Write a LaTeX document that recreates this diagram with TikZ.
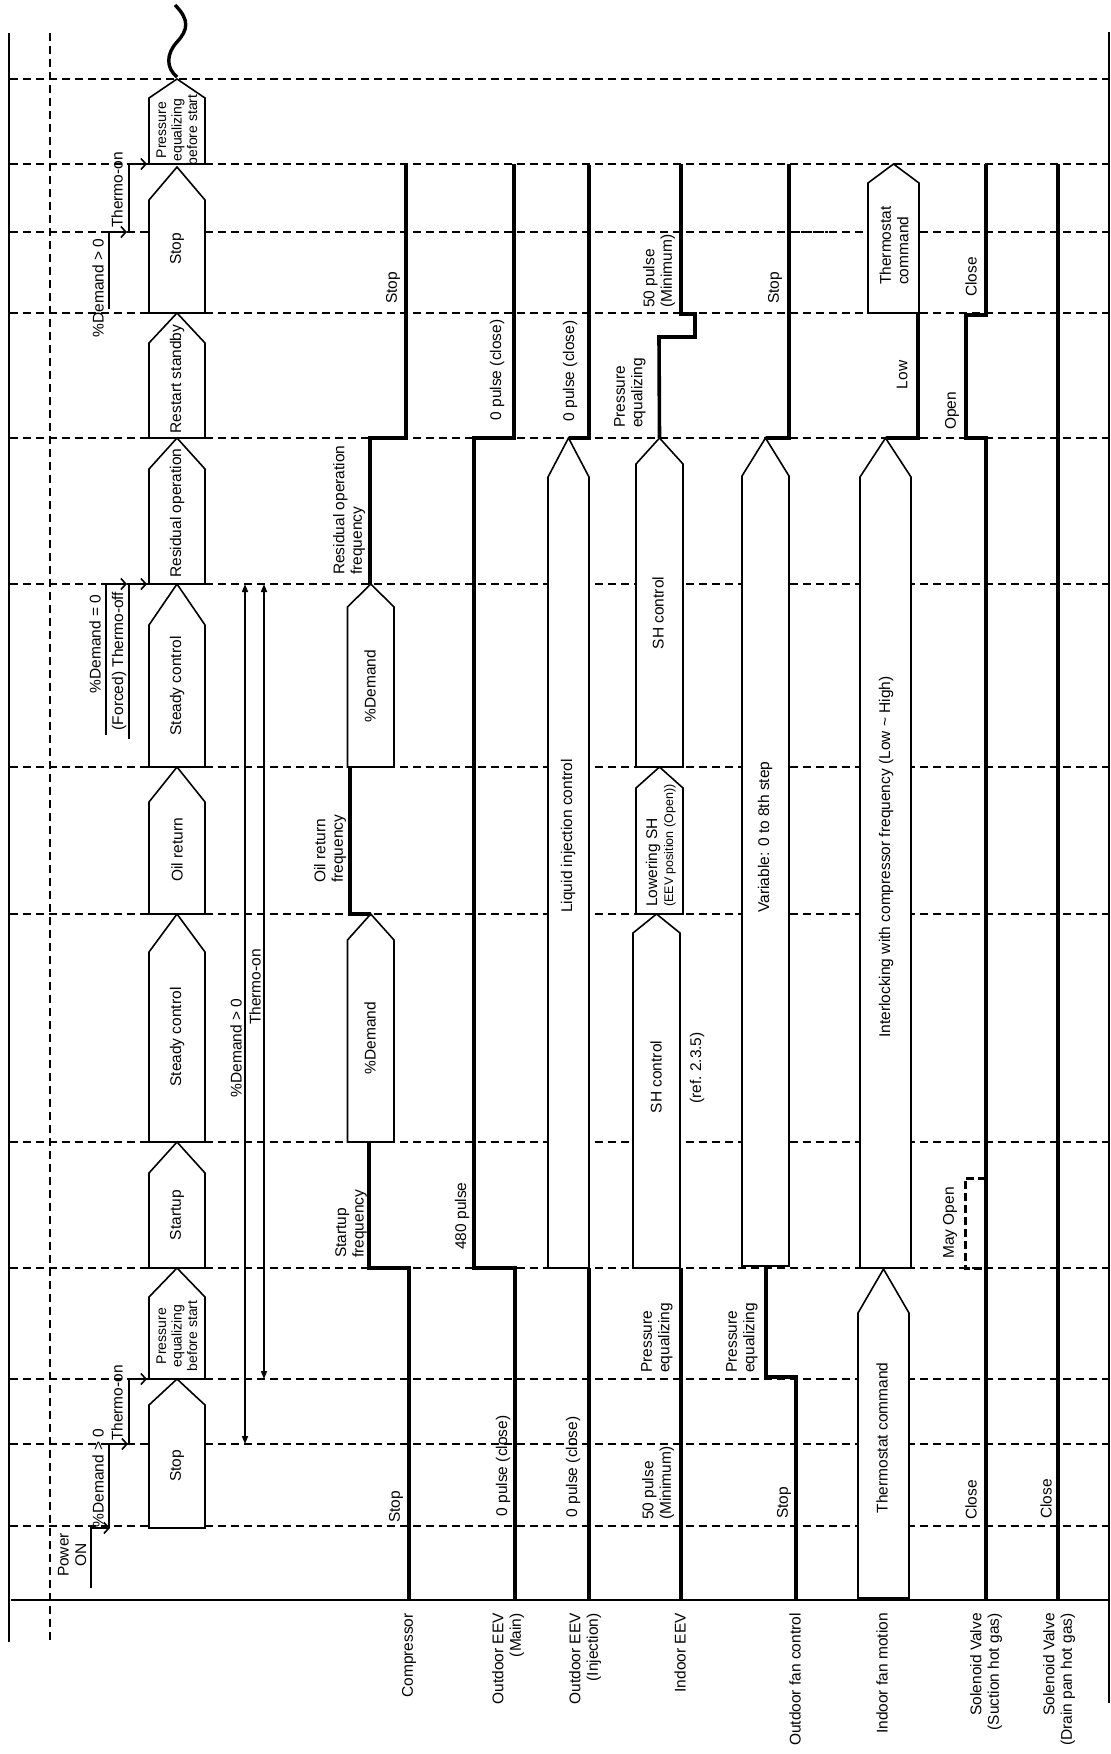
\documentclass[tikz,border=0pt]{standalone}
\usepackage{fontspec}
\setmainfont{Liberation Sans}
\usetikzlibrary{arrows.meta}
\newcommand\pentbox[5]{\draw[bx] (#1,#3) -- (#1,#4) -- ({(#1+#2)/2},#5) -- (#2,#4) -- (#2,#3) -- cycle;}
\tikzset{
 fr/.style={line width=2.2pt},
 dsh/.style={line width=1.1pt, dash pattern=on 8pt off 5pt},
 bx/.style={line width=1.6pt, fill=white, line join=miter},
 sig/.style={line width=3.6pt, line join=miter},
 tl/.style={line width=1.6pt},
 lbl/.style={rotate=90, inner sep=0pt, font=\fontsize{15.5}{17.5}\selectfont},
 bl/.style={lbl, anchor=west, align=left},
 rl/.style={lbl, anchor=east, align=right},
 cl/.style={lbl, align=center},
 sml/.style={font=\fontsize{14}{15.5}\selectfont},
 barb/.style={-{Straight Barb[length=5pt,width=11pt,line width=1.6pt]}},
 tri/.style={{Triangle[length=8pt,width=6pt]}-{Triangle[length=8pt,width=6pt]}},
}
\begin{document}
\begin{tikzpicture}[x=1pt,y=-1pt]
\useasboundingbox (0,0) rectangle (1111,1754);
% frame
\draw[fr] (9,33) -- (9,1642);
\draw[fr] (1109,32) -- (1109,1703);
\draw[fr] (11,1600) -- (1109,1600);
\draw[dsh] (50,33) -- (50,1642);
% event lines
\foreach \yy in {79,164,232,313,438,584,767,914,1142,1268,1379,1444,1526}
  \draw[dsh] (10,\yy) -- (1108,\yy);
\draw[line width=1.1pt, dash pattern=on 3pt off 1pt] (793,232) -- (835,232);
% wavy break
\draw[line width=3.4pt] (175,5) .. controls (190,20) and (188,30) .. (177,42) .. controls (166,54) and (166,68) .. (177,77);
% event staircase arrows (bottom)
\draw[tl,barb] (91,1588) -- (91,1528) -- (110,1528);
\draw[tl,barb] (109,1528) -- (109,1444) -- (128,1444);
\draw[tl,barb] (129,1444) -- (129,1379) -- (147,1379);
% top
\draw[tl,barb] (109,309) -- (109,232) -- (127,232);
\draw[tl,barb] (129,232) -- (129,164) -- (147,164);
% thermo-off
\draw[tl,barb] (106,735) -- (106,584) -- (127,584);
\draw[tl,barb] (129,739) -- (129,584) -- (147,584);
% long double arrows
\draw[tl,tri] (245,584) -- (245,1444);
\draw[tl,tri] (264,584) -- (264,1379);
% phase boxes
\pentbox{149}{205}{1528}{1405}{1379}
\pentbox{149}{205}{1379}{1297}{1268}
\pentbox{149}{205}{1268}{1173}{1142}
\pentbox{149}{205}{1142}{952}{914}
\pentbox{149}{205}{914}{802}{767}
\pentbox{149}{205}{767}{625}{584}
\pentbox{149}{205}{584}{469}{438}
\pentbox{149}{205}{438}{343}{313}
\pentbox{149}{205}{313}{200}{167}
\pentbox{149}{205}{164}{98}{79}
% compressor
\pentbox{347.5}{394}{1142}{940}{914}
\pentbox{347.5}{394}{767}{607}{584}
\draw[sig] (409,1600) -- (409,1268) -- (369,1268) -- (369,1142);
\draw[sig] (371,914) -- (350,914) -- (350,767);
\draw[sig] (370,584) -- (370,438) -- (406,438) -- (406,164);
% outdoor EEV main
\draw[sig] (515,1600) -- (515,1268) -- (474,1268) -- (474,438) -- (514,438) -- (514,164);
% outdoor EEV injection
\pentbox{548}{589}{1268}{477}{438}
\draw[sig] (589,1600) -- (589,1268);
\draw[sig] (568.5,438) -- (589,438) -- (589,165);
% indoor EEV
\pentbox{633}{680}{1268}{933}{914}
\pentbox{636}{683}{914}{788}{767}
\pentbox{636}{683}{767}{464}{438}
\draw[sig] (681,1600) -- (681,1268);
\draw[sig] (659.5,438) -- (659,337) -- (695,337) -- (695,314) -- (681,314) -- (681,164);
% outdoor fan
\pentbox{742}{789}{1266}{476}{438}
\draw[sig] (796,1600) -- (796,1377) -- (766,1377) -- (766,1266);
\draw[sig] (765.5,438) -- (789,438) -- (789,164);
% indoor fan
\pentbox{858}{909}{1598}{1313}{1269}
\pentbox{860}{911}{1268}{477}{438}
\pentbox{868}{919}{313}{183}{164}
\draw[sig] (885.5,438) -- (918,438) -- (918,313);
% solenoid suction
\draw[sig] (986,1600) -- (986,438) -- (966,438) -- (966,315) -- (986,315) -- (986,164);
\draw[line width=3pt, dash pattern=on 8pt off 4pt] (986,1178) -- (965,1178) -- (965,1268) -- (986,1268);
% solenoid drain
\draw[sig] (1058,1600) -- (1058,164);
% row labels
\node[rl] (lcomp) at (409,1613) {Compressor};
\node[rl] (leevm) at (508,1613) {Outdoor EEV\\(Main)};
\node[rl] (leevi) at (585,1613) {Outdoor EEV\\(Injection)};
\node[rl] (lieev) at (680,1613) {Indoor EEV};
\node[rl] (lofan) at (795,1613) {Outdoor fan control};
\node[rl] (lifan) at (882,1613) {Indoor fan motion};
\node[rl] (lsv1) at (986,1613) {Solenoid Valve\\(Suction hot gas)};
\node[rl] (lsv2) at (1059,1613) {Solenoid Valve\\(Drain pan hot gas)};
% phase texts
\node[cl] (p1) at (177,1466) {Stop};
\node[cl,sml] (p2) at (177,1336) {Pressure\\equalizing\\before start};
\node[cl] (p3) at (177,1215) {Startup};
\node[cl] (p4) at (177,1037) {Steady control};
\node[cl] (p5) at (177,850) {Oil return};
\node[cl] (p6) at (177,686) {Steady control};
\node[cl] (p7) at (177,513) {Residual operation};
\node[cl] (p8) at (177,379) {Restart standby};
\node[cl] (p9) at (177,249) {Stop};
\node[cl,sml] (p10) at (177,130) {Pressure\\equalizing\\before start};
% event texts
\node[cl] (e1) at (72,1555) {Power\\ON};
\node[cl] (e2) at (98,1478) {\%Demand > 0};
\node[cl] (e3) at (117,1403) {Thermo-on};
\node[cl] (e4) at (98,288) {\%Demand > 0};
\node[cl] (e5) at (117,190) {Thermo-on};
\node[cl] (e6) at (95,644) {\%Demand = 0};
\node[cl] (e7) at (119,661) {(Forced) Thermo-off};
\node[cl] (e8) at (236,1048) {\%Demand > 0};
\node[cl] (e9) at (255,987) {Thermo-on};
% compressor texts
\node[cl] (c1) at (396,1507) {Stop};
\node[bl] (c2) at (351,1258) {Startup\\frequency};
\node[cl] (c3) at (370,1038) {\%Demand};
\node[bl] (c4) at (330,883) {Oil return\\frequency};
\node[cl] (c5) at (370,686) {\%Demand};
\node[bl] (c6) at (349,575) {Residual operation\\frequency};
\node[cl] (c7) at (393,288) {Stop};
% main EEV texts
\node[cl] (m1) at (503,1466) {0 pulse (close)};
\node[cl] (m2) at (462,1216) {480 pulse};
\node[cl] (m3) at (497,370) {0 pulse (close)};
% injection texts
\node[cl] (i1) at (573,1467) {0 pulse (close)};
\node[cl] (i2) at (568,836) {Liquid injection control};
\node[cl] (i3) at (570,371) {0 pulse (close)};
% indoor EEV texts
\node[bl] (n1) at (658,1520) {50 pulse\\(Minimum)};
\node[bl] (n2) at (657,1373) {Pressure\\equalizing};
\node[cl] (n3) at (656,1077) {SH control};
\node[cl] (n4) at (697,1068) {(ref.\ 2.3.5)};
\node[bl] (n5) at (653,907) {Lowering SH};
\node[bl,font=\fontsize{12.5}{14}\selectfont] (n6) at (670,907) {(EEV position (Open))};
\node[cl] (n7) at (658,613) {SH control};
\node[bl] (n8) at (630,428) {Pressure\\equalizing};
\node[bl] (n9) at (659,308) {50 pulse\\(Minimum)};
% outdoor fan texts
\node[cl] (f1) at (784,1503) {Stop};
\node[bl] (f2) at (742,1373) {Pressure\\equalizing};
\node[cl] (f3) at (765,837) {Variable: 0 to 8th step};
\node[cl] (f4) at (775,288) {Stop};
% indoor fan texts
\node[cl] (g1) at (882,1438) {Thermostat command};
\node[cl] (g2) at (886,857) {Interlocking with compressor frequency (Low \textasciitilde{} High)};
\node[cl] (g3) at (902,375) {Low};
\node[bl] (g4) at (894,285) {Thermostat\\command};
% solenoid texts
\node[cl] (s1) at (971,1500) {Close};
\node[cl] (s2) at (950,1223) {May Open};
\node[cl] (s3) at (952,411) {Open};
\node[cl] (s4) at (971,277) {Close};
\node[cl] (s5) at (1046,1499) {Close};
\end{tikzpicture}
\end{document}
